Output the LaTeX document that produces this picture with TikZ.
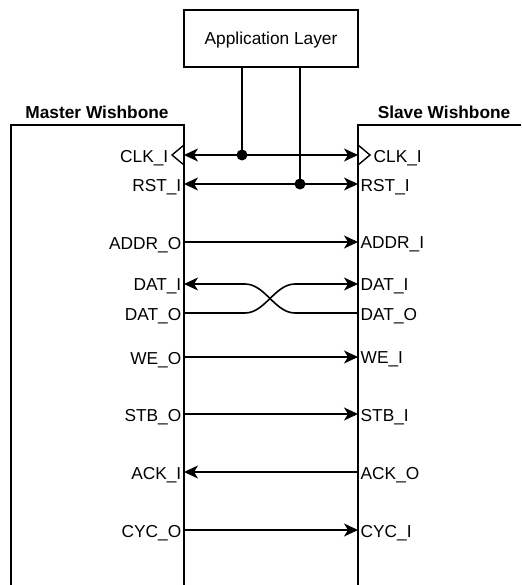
\documentclass[tikz,border=0pt]{standalone}
\usepackage{fontspec}
\setmainfont{Liberation Sans}
\usetikzlibrary{arrows.meta}
\begin{document}
\begin{tikzpicture}[x=1pt,y=-1pt,
  line width=1.4pt,
  sig/.style={font=\fontsize{17.3}{17.3}\selectfont, inner sep=0pt, text depth=0pt, yshift=-1pt},
  ttl/.style={font=\bfseries\fontsize{17.3}{17.3}\selectfont, inner sep=0pt, text depth=0pt},
  arr/.style={-{Stealth[length=14pt,width=13pt,inset=4pt]}},
  barr/.style={{Stealth[length=14pt,width=13pt,inset=4pt]}-{Stealth[length=14pt,width=13pt,inset=4pt]}},
  jdot/.style={circle,fill=black,draw=none,inner sep=0pt,minimum size=11pt}]
\useasboundingbox (0,0) rectangle (521,585);
% blocks
\node[draw, line width=1.4pt, minimum width=174pt, minimum height=57pt, inner sep=0pt,
  text depth=0pt, font=\fontsize{17.3}{17.3}\selectfont] (app) at (271,38.5) {Application Layer};
\draw (11,585) -- (11,125) -- (184,125) -- (184,585);
\draw (521,125) -- (358,125) -- (358,585);
\node[ttl] (mt) at (97,112) {Master Wishbone};
\node[ttl] (st) at (444,112) {Slave Wishbone};
% clock triangles
\draw (184,145) -- (172,155) -- (184,165);
\draw (358,145) -- (370,155) -- (358,165);
% pin coordinates
\foreach \n/\y in {clk/155,rst/184,addr/242,dati/284,dato/313,we/357,stb/414,ack/472,cyc/530}{
  \coordinate (m-\n) at (184,\y);
  \coordinate (s-\n) at (358,\y);
}
% master labels
\node[sig,anchor=east] (lm-clk) at (169,155) {CLK\_I};
\node[sig,anchor=east] (lm-rst) at (182,184) {RST\_I};
\node[sig,anchor=east] (lm-addr) at (182,242) {ADDR\_O};
\node[sig,anchor=east] (lm-dati) at (182,284) {DAT\_I};
\node[sig,anchor=east] (lm-dato) at (182,313) {DAT\_O};
\node[sig,anchor=east] (lm-we) at (182,357) {WE\_O};
\node[sig,anchor=east] (lm-stb) at (182,414) {STB\_O};
\node[sig,anchor=east] (lm-ack) at (182,472) {ACK\_I};
\node[sig,anchor=east] (lm-cyc) at (182,530) {CYC\_O};
% slave labels
\node[sig,anchor=west] (ls-clk) at (373,155) {CLK\_I};
\node[sig,anchor=west] (ls-rst) at (360,184) {RST\_I};
\node[sig,anchor=west] (ls-addr) at (360,242) {ADDR\_I};
\node[sig,anchor=west] (ls-dati) at (360,284) {DAT\_I};
\node[sig,anchor=west] (ls-dato) at (360,313) {DAT\_O};
\node[sig,anchor=west] (ls-we) at (360,357) {WE\_I};
\node[sig,anchor=west] (ls-stb) at (360,414) {STB\_I};
\node[sig,anchor=west] (ls-ack) at (360,472) {ACK\_O};
\node[sig,anchor=west] (ls-cyc) at (360,530) {CYC\_I};
% dots
\node[jdot] (d1) at (242,155) {};
\node[jdot] (d2) at (300,184) {};
% connections
\draw[barr] (m-clk) -- (s-clk);
\draw[barr] (m-rst) -- (s-rst);
\draw (app.south -| d1) -- (d1.center);
\draw (app.south -| d2) -- (d2.center);
\draw[arr] (m-addr) -- (s-addr);
\draw[arr, line width=1.6pt] (m-dato) -- (245,313) .. controls (265,313) and (275,284) .. (295,284) -- (s-dati);
\draw[arr, line width=1.6pt] (s-dato) -- (295,313) .. controls (275,313) and (265,284) .. (245,284) -- (m-dati);
\draw[arr] (m-we) -- (s-we);
\draw[arr] (m-stb) -- (s-stb);
\draw[arr] (s-ack) -- (m-ack);
\draw[arr] (m-cyc) -- (s-cyc);
\end{tikzpicture}
\end{document}
